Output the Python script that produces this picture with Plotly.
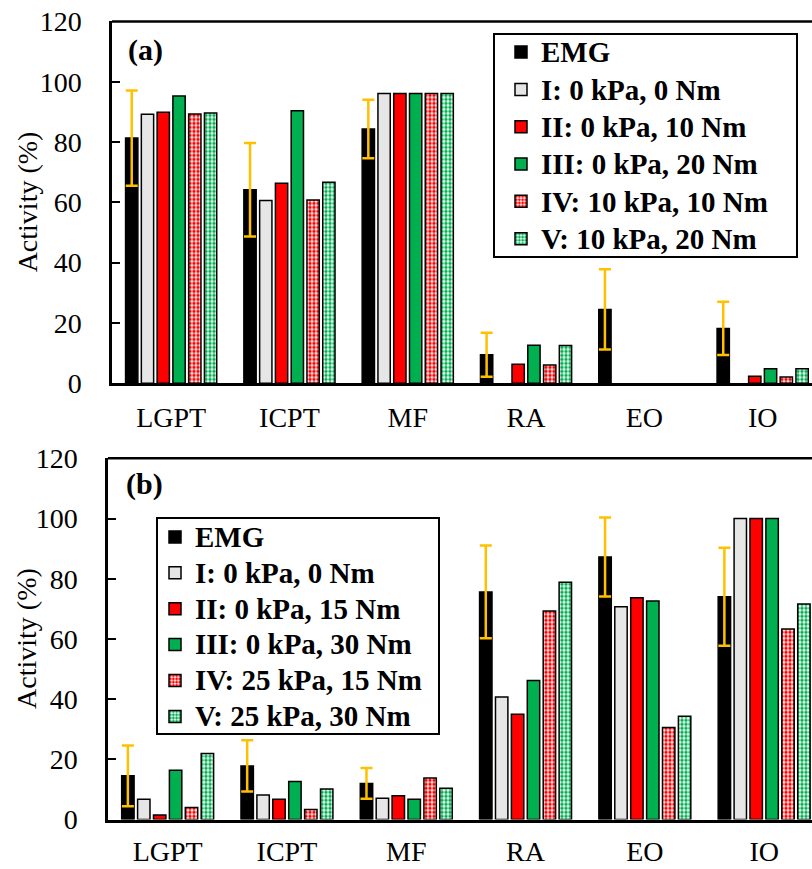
import plotly.graph_objects as go

# Muscle groups shared by both panels
muscles = ["LGPT", "ICPT", "MF", "RA", "EO", "IO"]

# Panel (a): measured EMG (mean, SD) and simulated activity per loading case
emg_a = [81.3, 64.2, 84.3, 9.5, 24.5, 18.2]
emg_sd_a = [15.8, 15.5, 9.7, 7.3, 13.3, 8.8]
case1_a = [89.2, 60.6, 96.1, 0, 0, 0]
case2_a = [89.9, 66.3, 96.1, 6.3, 0, 2.3]
case3_a = [95.3, 90.4, 96.1, 12.6, 0, 4.8]
case4_a = [89.3, 60.8, 96.1, 6.1, 0, 2.1]
case5_a = [89.6, 66.7, 96.1, 12.5, 0, 4.8]
names_a = ["EMG", "I: 0 kPa, 0 Nm", "II: 0 kPa, 10 Nm", "III: 0 kPa, 20 Nm",
           "IV: 10 kPa, 10 Nm", "V: 10 kPa, 20 Nm"]

# Panel (b)
emg_b = [14.5, 17.8, 12.0, 75.6, 87.2, 74.0]
emg_sd_b = [10.1, 8.5, 5.1, 15.4, 13.1, 16.3]
case1_b = [6.7, 8.1, 7.1, 40.7, 70.7, 100]
case2_b = [1.5, 6.7, 7.9, 35.0, 73.7, 100]
case3_b = [16.4, 12.6, 6.7, 46.2, 72.6, 100]
case4_b = [4.0, 3.3, 13.8, 69.3, 30.6, 63.3]
case5_b = [21.9, 10.1, 10.4, 78.8, 34.3, 71.6]
names_b = ["EMG", "I: 0 kPa, 0 Nm", "II: 0 kPa, 15 Nm", "III: 0 kPa, 30 Nm",
           "IV: 25 kPa, 15 Nm", "V: 25 kPa, 30 Nm"]

y_ticks = [0, 20, 40, 60, 80, 100, 120]

W, H = 812, 869
FONT = "Liberation Serif"
ERR = "#FFC000"
RED = "#FF0000"
GREEN = "#00B050"
GREY = "#E6E6E6"


def px_x(v):
    return v / W


def px_y(v):
    return (H - v) / H


def marker_for(kind, color, vals):
    # outline is dropped on empty (zero) bars so nothing shows on the axis
    line = dict(color="black", width=[0 if v == 0 else 1.5 for v in vals])
    if kind == "solid":
        return dict(color=color, line=line)
    return dict(color="white", line=line,
                pattern=dict(shape=".", fgcolor=color, bgcolor="white",
                             size=4, solidity=0.6, fgopacity=1))


KINDS = [("solid", "black"), ("solid", GREY), ("solid", RED), ("solid", GREEN),
         ("checker", RED), ("checker", GREEN)]

fig = go.Figure()


def add_panel(series, sd, names, xa, ya, legend):
    for i, (vals, nm, (kind, col)) in enumerate(zip(series, names, KINDS)):
        kw = {}
        if i == 0:
            kw["error_y"] = dict(type="data", array=sd, color=ERR,
                                 thickness=2.5, width=6)
        fig.add_trace(go.Bar(
            x=muscles, y=vals, name=f'<span style="font-size:29px">{nm}</span>',
            marker=marker_for(kind, col, vals), xaxis=xa, yaxis=ya,
            legend=legend, **kw))


add_panel([emg_a, case1_a, case2_a, case3_a, case4_a, case5_a], emg_sd_a,
          names_a, "x", "y", "legend")
add_panel([emg_b, case1_b, case2_b, case3_b, case4_b, case5_b], emg_sd_b,
          names_b, "x2", "y2", "legend2")

axis_common = dict(showline=True, linecolor="black", linewidth=2.5,
                   showgrid=False, zeroline=False, automargin=False,
                   tickfont=dict(family=FONT, size=28, color="black"))

# pixel geometry of the two plot areas
a_left, a_top, a_bot, a_cat = 112, 21.4, 383.3, 118.3
b_left, b_top, b_bot, b_cat = 108, 458.3, 819.5, 119.3

xa = dict(axis_common, type="category", ticks="",
          categoryorder="array", categoryarray=muscles)
ya = dict(axis_common, range=[0, 120], tickvals=y_ticks, ticks="inside",
          ticklen=8, tickwidth=2, tickcolor="black", ticklabelstandoff=22)

fig.update_layout(
    width=W, height=H,
    margin=dict(l=0, r=0, t=0, b=0, autoexpand=False),
    paper_bgcolor="white", plot_bgcolor="white",
    barmode="group", bargap=0.2, bargroupgap=0.22,
    xaxis=dict(xa, domain=[px_x(a_left), 1], anchor="y", ticklabelstandoff=7,
               range=[-0.5, -0.5 + (W - a_left) / a_cat]),
    yaxis=dict(ya, domain=[px_y(a_bot), px_y(a_top)], anchor="x"),
    xaxis2=dict(xa, domain=[px_x(b_left), 1], anchor="y2", ticklabelstandoff=5,
                range=[-0.5, -0.5 + (W - b_left) / b_cat]),
    yaxis2=dict(ya, domain=[px_y(b_bot), px_y(b_top)], anchor="x2"),
    legend=dict(x=px_x(501), y=px_y(28.4), xanchor="left", yanchor="top",
                bgcolor="rgba(0,0,0,0)", borderwidth=0,
                font=dict(family=FONT, size=26.4, color="black", weight="bold")),
    legend2=dict(x=px_x(155), y=px_y(514), xanchor="left", yanchor="top",
                 bgcolor="rgba(0,0,0,0)", borderwidth=0,
                 font=dict(family=FONT, size=25.3, color="black", weight="bold")),
    showlegend=True,
)

# top frame lines and legend boxes
for xr, yr in (("x", "y"), ("x2", "y2")):
    fig.add_shape(type="line", xref=f"{xr} domain", yref=f"{yr} domain",
                  x0=0, x1=1, y0=1, y1=1, line=dict(color="black", width=2.5))
for x0, x1, y0, y1 in ((494, 797, 34, 257), (157, 439, 518, 734)):
    fig.add_shape(type="rect", xref="paper", yref="paper",
                  x0=px_x(x0), x1=px_x(x1), y0=px_y(y1), y1=px_y(y0),
                  line=dict(color="black", width=2), fillcolor="rgba(0,0,0,0)")

# panel tags and y-axis titles
for tag, cx, cy in (("(a)", 145, 50), ("(b)", 144, 484)):
    fig.add_annotation(text=f"<b>{tag}</b>", xref="paper", yref="paper",
                       x=px_x(cx), y=px_y(cy), showarrow=False,
                       xanchor="center", yanchor="middle",
                       font=dict(family=FONT, size=30, color="black"))
for top, bot in ((a_top, a_bot), (b_top, b_bot)):
    fig.add_annotation(text="Activity (%)", xref="paper", yref="paper",
                       x=px_x(27), y=px_y((top + bot) / 2), showarrow=False,
                       xanchor="center", yanchor="middle", textangle=-90,
                       font=dict(family=FONT, size=28, color="black"))

fig.write_html("out.html")
